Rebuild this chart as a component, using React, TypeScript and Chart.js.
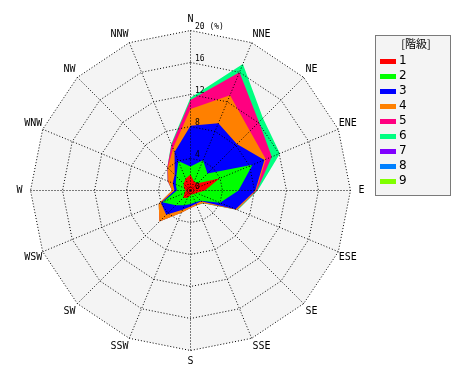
import React, { useEffect, useRef } from 'react';
import { Chart, registerables } from 'chart.js';

Chart.register(...registerables);

// 16 wind directions, clockwise from north
const directions = ['N', 'NNE', 'NE', 'ENE', 'E', 'ESE', 'SE', 'SSE', 'S', 'SSW', 'SW', 'WSW', 'W', 'WNW', 'NW', 'NNW'];

// wind-speed classes (階級)
const classLabels = ['1', '2', '3', '4', '5', '6', '7', '8', '9'];
const classColors = ['#ff0000', '#00ff00', '#0000ff', '#ff8000', '#ff0080', '#00ff80', '#8000ff', '#0080ff', '#80ff00'];

// frequency (%) of each class per direction (N, NNE, ... NNW)
const class1 = [2.0, 1.2, 1.3, 3.9, 1.8, 0.8, 0.6, 0.5, 0.6, 1.0, 1.3, 0.8, 0.6, 0.9, 1.2, 1.6];
const class2 = [1.0, 2.9, 1.7, 4.5, 4.2, 3.2, 1.2, 1.1, 1.1, 1.0, 1.3, 3.0, 1.1, 1.1, 1.3, 2.4];
const class3 = [5.1, 5.0, 5.2, 1.6, 2.1, 2.1, 0.1, 0.2, 0.3, 0.6, 1.7, 0.2, 0.3, 0.4, 0.3, 1.2];
const class4 = [2.1, 3.8, 2.3, 0.2, 0.1, 0.2, 0.3, 0.2, 0.2, 0.4, 1.2, 0.3, 0.3, 0.6, 1.2, 0.5];
const class5 = [1.1, 3.1, 1.6, 0.8, 0.1, 0.0, 0.0, 0.0, 0.0, 0.0, 0.0, 0.0, 0.0, 0.1, 0.1, 0.5];
const class6 = [0.3, 1.1, 0.7, 1.1, 0.1, 0.1, 0.1, 0.0, 0.0, 0.0, 0.0, 0.0, 0.0, 0.0, 0.0, 0.1];
const class7 = [0, 0, 0, 0, 0, 0, 0, 0, 0, 0, 0, 0, 0, 0, 0, 0];
const class8 = [0, 0, 0, 0, 0, 0, 0, 0, 0, 0, 0, 0, 0, 0, 0, 0];
const class9 = [0, 0, 0, 0, 0, 0, 0, 0, 0, 0, 0, 0, 0, 0, 0, 0];

const tickValues = [0, 4, 8, 12, 16, 20];
const maxValue = 20;
const unitLabel = '(%)';
const legendTitle = '[階級]';

export default function App() {
  const ref = useRef<HTMLCanvasElement>(null);

  useEffect(() => {
    const canvas = ref.current;
    if (!canvas) return;
    const classes = [class1, class2, class3, class4, class5, class6, class7, class8, class9];
    let running = directions.map(() => 0);
    const datasets = classes.map((f, k) => {
      running = running.map((v, i) => Math.round((v + f[i]) * 100) / 100);
      return {
        label: classLabels[k],
        data: running.slice(),
        backgroundColor: classColors[k],
        borderColor: classColors[k],
        borderWidth: 0,
        pointRadius: 0,
        pointHoverRadius: 0,
        fill: 'origin',
        hidden: !f.some((v) => v > 0),
      };
    });

    const decor = {
      id: 'decor',
      beforeDraw(chart: any) {
        chart.ctx.save();
        chart.ctx.translate(0.5, 0.5);
      },
      beforeDatasetsDraw(chart: any) {
        const s = chart.scales.r;
        const ctx = chart.ctx;
        const d = s.getDistanceFromCenterForValue(maxValue);
        ctx.save();
        ctx.beginPath();
        for (let i = 0; i < directions.length; i++) {
          const p = s.getPointPosition(i, d);
          if (i === 0) ctx.moveTo(p.x, p.y);
          else ctx.lineTo(p.x, p.y);
        }
        ctx.closePath();
        ctx.fillStyle = '#f4f4f4';
        ctx.fill();
        ctx.restore();
      },
      afterDraw(chart: any) {
        const ctx = chart.ctx;
        ctx.restore();
        const s = chart.scales.r;
        // radial tick labels
        ctx.save();
        ctx.fillStyle = '#000';
        ctx.font = '8px "DejaVu Sans Mono"';
        ctx.textAlign = 'left';
        ctx.textBaseline = 'middle';
        tickValues.forEach((v) => {
          const d = s.getDistanceFromCenterForValue(v);
          const txt = v === maxValue ? `${v} ${unitLabel}` : `${v}`;
          ctx.fillText(txt, s.xCenter + 5, s.yCenter - d - 3);
        });
        ctx.restore();

        // legend box
        const bx = 375, by = 35, bw = 76, bh = 161;
        ctx.save();
        ctx.fillStyle = '#f4f4f4';
        ctx.fillRect(bx, by, bw, bh);
        ctx.strokeStyle = '#000';
        ctx.lineWidth = 1;
        ctx.setLineDash([1, 1]);
        ctx.strokeRect(bx + 0.5, by + 0.5, bw - 1, bh - 1);
        ctx.setLineDash([]);
        ctx.fillStyle = '#000';
        ctx.font = '11px "Noto Sans CJK JP"';
        ctx.textAlign = 'center';
        ctx.textBaseline = 'middle';
        ctx.fillText(legendTitle, bx + bw / 2 + 3, by + 9);
        ctx.font = '12px "DejaVu Sans"';
        ctx.textAlign = 'left';
        chart.data.datasets.forEach((ds: any, i: number) => {
          const cy = 61 + i * 15;
          ctx.fillStyle = ds.backgroundColor;
          ctx.fillRect(380, cy - 2, 16, 5);
          ctx.fillStyle = '#000';
          ctx.fillText(ds.label, 399, cy);
        });
        ctx.restore();
      },
    };

    const chart = new Chart(canvas, {
      type: 'radar',
      data: { labels: directions, datasets: datasets as any },
      options: {
        responsive: false,
        animation: false,
        layout: { padding: { left: 16, right: 106, top: 0, bottom: 0 } },
        plugins: { legend: { display: false }, tooltip: { enabled: false }, title: { display: false } },
        elements: { line: { tension: 0 } },
        scales: {
          r: {
            min: 0,
            max: maxValue,
            beginAtZero: true,
            ticks: { display: false, stepSize: 4 },
            grid: { color: '#000', lineWidth: 1, z: 1, borderDash: [1, 2] } as any,
            border: { display: false, dash: [1, 2] } as any,
            angleLines: { display: true, color: '#000', lineWidth: 1, borderDash: [1, 2] },
            pointLabels: {
              color: '#000',
              font: { family: '"DejaVu Sans Mono"', size: 10 },
              padding: (c: any) => {
                const i = c.index ?? 0;
                const th = (i * Math.PI * 2) / directions.length;
                const w = directions[i].length * 6.02;
                return Math.max(0, 11 - (w / 2) * Math.abs(Math.sin(th)) - 6 * Math.abs(Math.cos(th)));
              },
            },
          },
        },
      },
      plugins: [decor],
    });
    return () => chart.destroy();
  }, []);

  return (
    <div style={{ position: 'fixed', left: 0, top: 0, width: 470, height: 380, background: '#fff' }}>
      <canvas ref={ref} width={470} height={380} style={{ display: 'block', width: 470, height: 380 }} />
    </div>
  );
}
